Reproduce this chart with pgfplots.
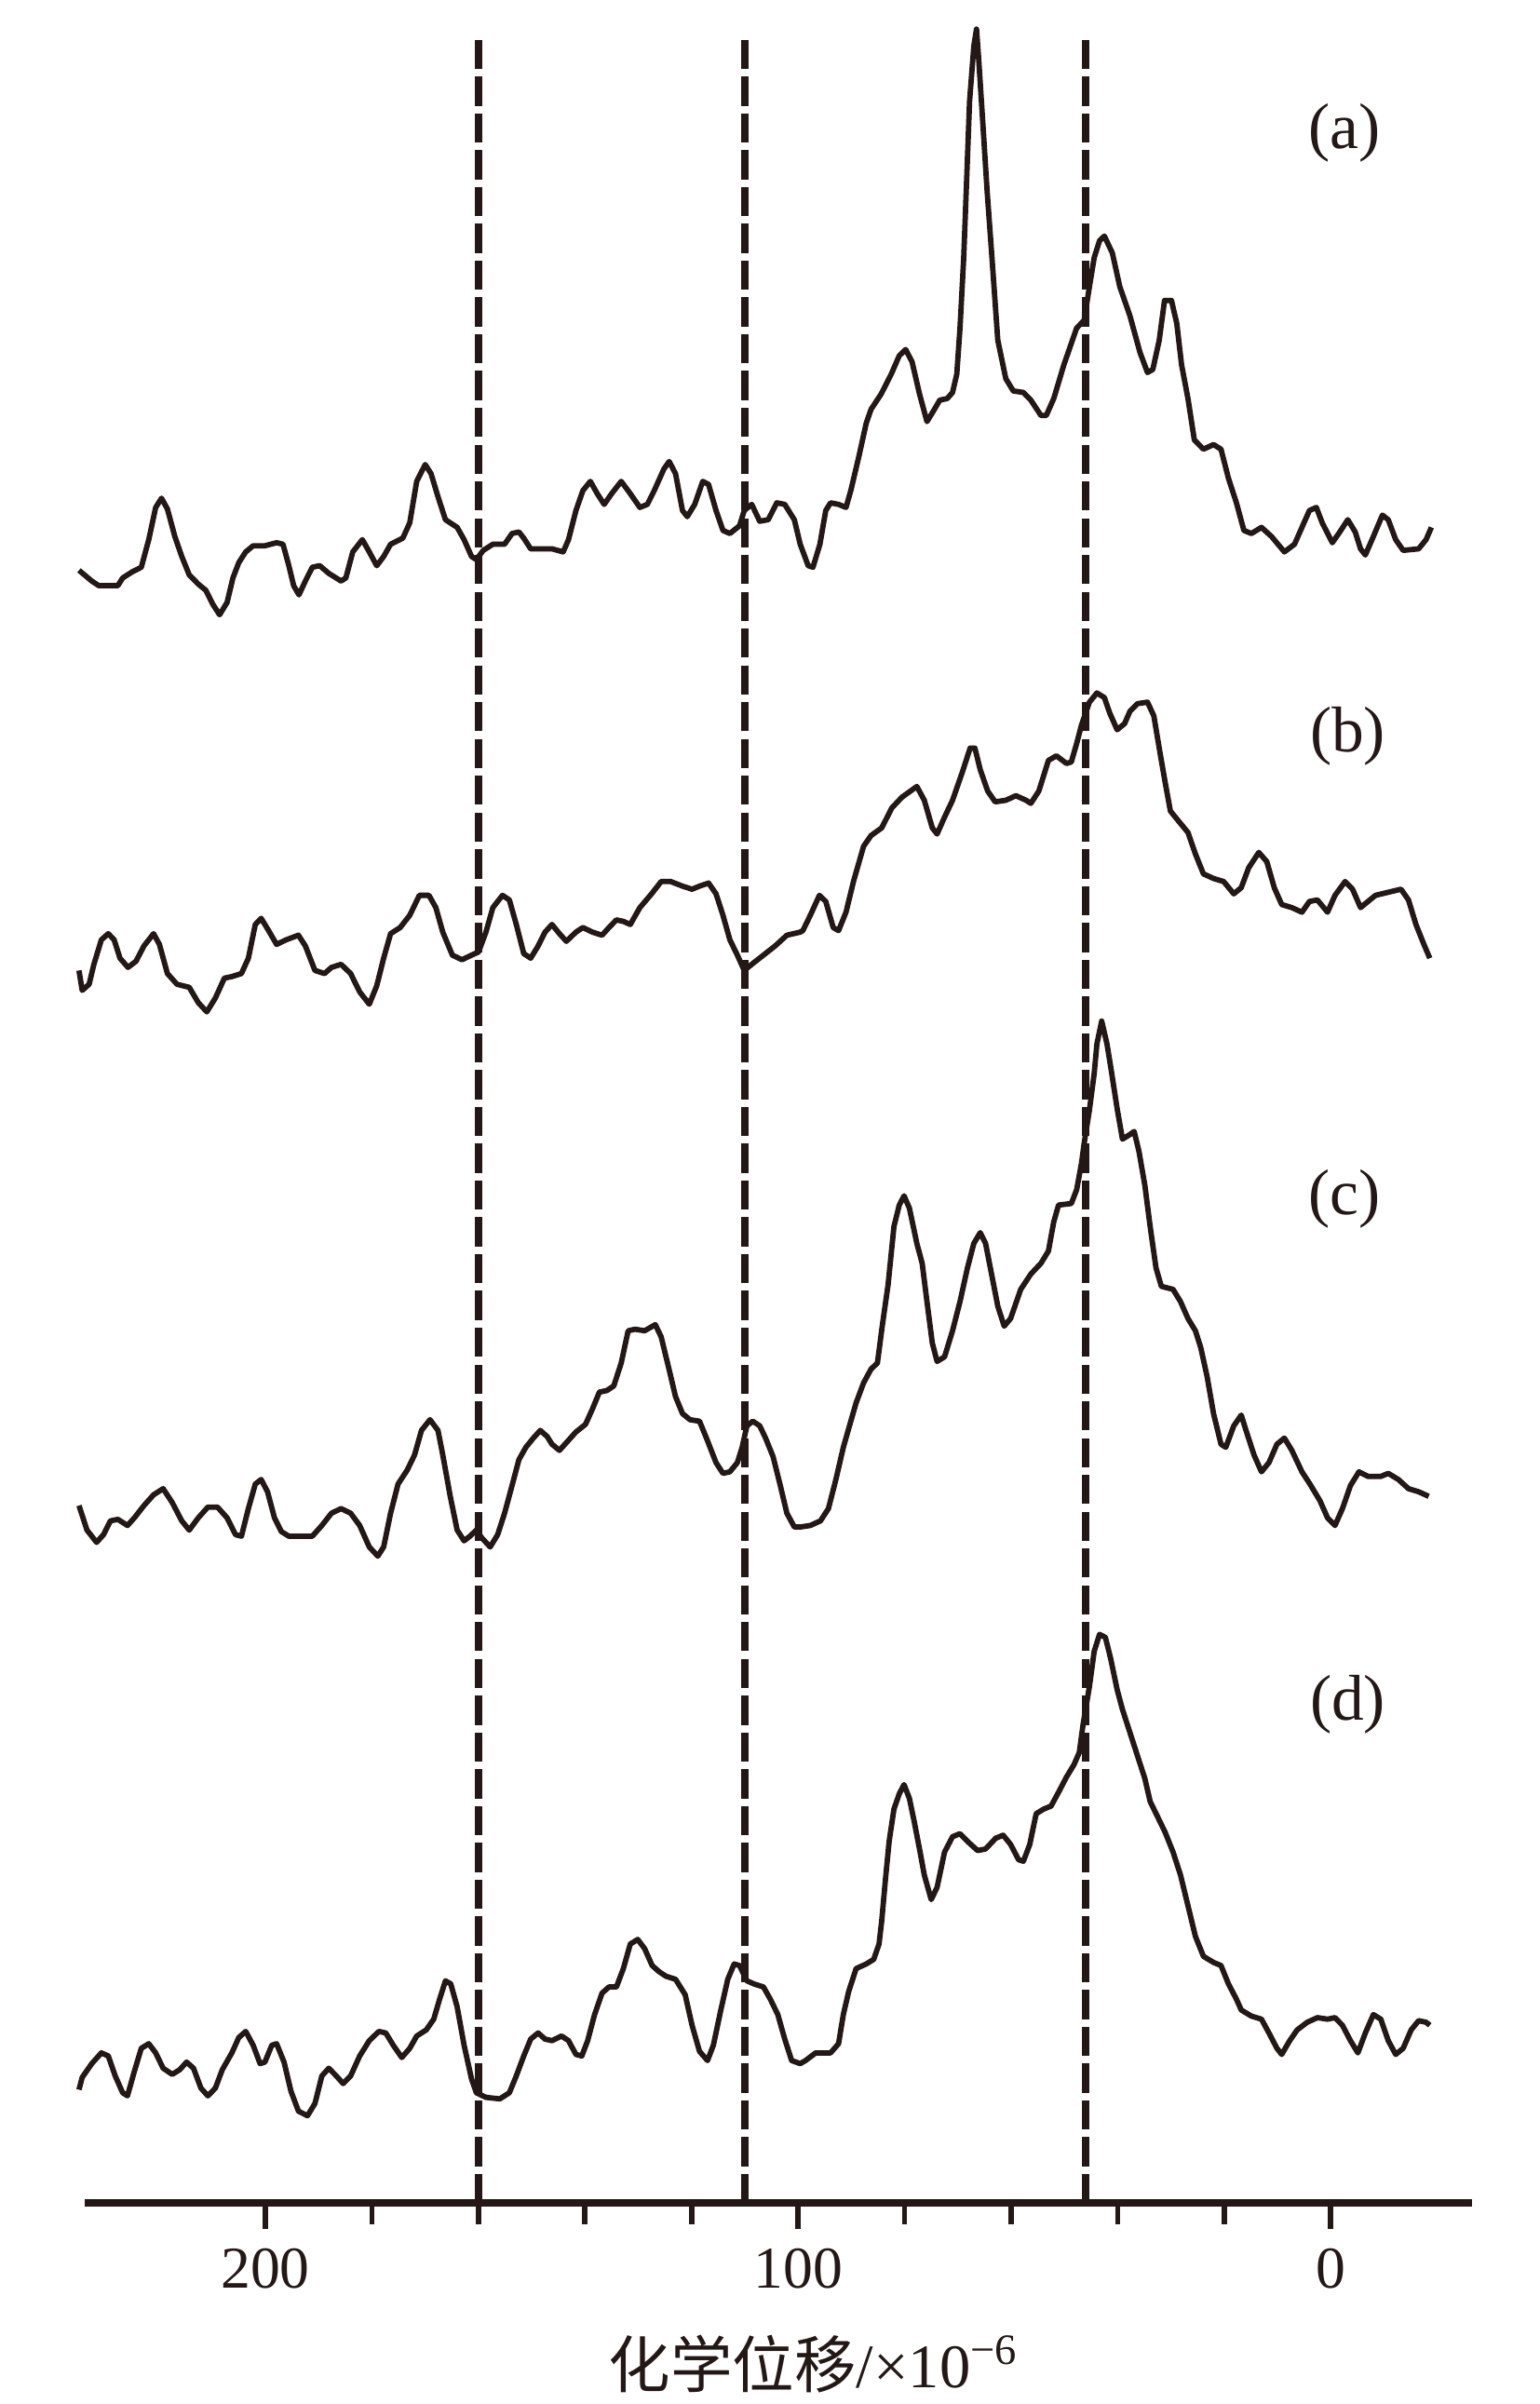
\documentclass[border=0pt]{standalone}
\usepackage{fontspec}
\setmainfont{Liberation Serif}
\newfontfamily\cjk{Noto Sans CJK SC}
\usepackage{pgfplots}
\pgfplotsset{compat=1.18}
\definecolor{ink}{HTML}{231815}
\begin{document}
\begin{tikzpicture}
\useasboundingbox (0,0) rectangle (100.4mm,156.8mm);
\begin{axis}[
  at={(5.5mm,13.1mm)}, anchor=south west,
  scale only axis, width=90.5mm, height=142.2mm,
  x dir=reverse, xmin=-26.5, xmax=234, ymin=0, ymax=1422,
  axis y line=none, axis x line=bottom,
  x axis line style={-, line width=1.4pt, color=ink},
  xtick={0,100,200}, minor xtick={20,40,60,80,120,140,160,180},
  tick align=outside, major tick length=1.7mm, minor tick length=1.35mm,
  every tick/.style={line width=1pt, color=ink},
  xticklabel style={font=\fontsize{11}{13}\selectfont, text=ink},
  /pgf/number format/assume math mode=true,
  clip=false,
  trace/.style={color=ink, line width=1pt, line join=round, no marks, solid},
  vline/.style={color=ink, line width=1.3pt, no marks, dash pattern=on 1.9mm off 0.5mm},
]
% dashed reference lines
\addplot[vline] coordinates {(160,0) (160,1415)};
\addplot[vline] coordinates {(110,0) (110,1415)};
\addplot[vline] coordinates {(46,0) (46,1415)};
% (a)
\addplot[trace] coordinates {(235.0,1065) (232.6,1058) (231.3,1055) (227.7,1055) (226.8,1060) (225.0,1064) (223.3,1067) (221.9,1085) (220.6,1106) (219.5,1112) (218.4,1105) (217.0,1087) (215.7,1074) (214.3,1062) (212.6,1056) (211.2,1052) (209.9,1043) (208.6,1036) (207.2,1044) (206.1,1060) (205.0,1070) (203.7,1077) (202.3,1081) (200.1,1081) (197.9,1083) (196.7,1082) (195.6,1068) (194.7,1055) (193.7,1049) (192.5,1058) (191.2,1067) (189.8,1068) (188.1,1063) (185.8,1058) (184.9,1060) (183.6,1077) (181.8,1085) (180.5,1077) (179.1,1068) (177.8,1074) (176.5,1082) (174.2,1086) (172.9,1096) (171.6,1123) (170.0,1134) (168.9,1128) (167.6,1113) (166.2,1098) (164.0,1093) (162.7,1085) (161.3,1074) (160.4,1072) (159.1,1078) (157.3,1082) (155.1,1082) (153.7,1089) (152.4,1090) (151.5,1086) (150.2,1079) (148.4,1079) (146.2,1079) (144.1,1077) (143.1,1085) (141.7,1104) (140.4,1117) (139.0,1123) (137.7,1115) (136.4,1108) (135.0,1115) (133.2,1123) (131.5,1115) (129.7,1106) (128.3,1108) (127.0,1117) (125.2,1131) (124.2,1136) (123.0,1128) (121.7,1104) (120.8,1100) (119.4,1108) (117.9,1123) (116.8,1121) (115.4,1104) (114.1,1091) (112.8,1089) (111.0,1094) (110.1,1104) (108.7,1108) (107.2,1097) (105.6,1098) (104.0,1109) (102.5,1108) (100.7,1098) (99.6,1082) (98.1,1068) (97.2,1067) (95.9,1082) (94.8,1104) (93.9,1109) (92.4,1108) (91.0,1106) (90.1,1117) (88.6,1139) (87.2,1161) (86.3,1170) (84.4,1180) (82.5,1193) (81.0,1205) (79.8,1209) (78.6,1201) (77.2,1180) (75.8,1162) (74.4,1170) (73.4,1176) (72.0,1177) (71.0,1181) (70.2,1193) (69.6,1223) (68.9,1269) (68.4,1315) (67.8,1371) (67.0,1407) (66.5,1418) (66.1,1399) (65.3,1356) (64.5,1312) (63.6,1269) (62.5,1215) (61.0,1190) (59.6,1182) (57.7,1181) (56.3,1176) (54.4,1166) (53.4,1166) (52.0,1177) (50.1,1199) (47.7,1223) (46.3,1228) (45.3,1250) (44.4,1269) (43.4,1280) (42.5,1283) (41.0,1272) (39.6,1250) (37.7,1231) (35.8,1207) (34.4,1194) (33.4,1196) (32.2,1215) (31.2,1241) (29.9,1241) (28.9,1226) (28.0,1199) (26.8,1177) (25.6,1150) (23.9,1144) (22.0,1147) (20.6,1144) (19.2,1125) (17.7,1109) (16.3,1091) (14.9,1089) (13.0,1093) (11.1,1087) (8.7,1077) (6.8,1082) (5.4,1093) (4.0,1104) (2.7,1106) (1.6,1096) (-0.3,1083) (-1.7,1090) (-3.2,1098) (-4.6,1090) (-5.6,1079) (-6.5,1075) (-8.0,1087) (-9.7,1101) (-10.8,1098) (-12.2,1085) (-13.6,1078) (-16.5,1079) (-17.9,1085) (-18.9,1093)};
% (b)
\addplot[trace] coordinates {(235.0,804) (234.4,791) (233.1,795) (232.2,808) (230.8,824) (229.5,828) (228.4,824) (227.3,812) (225.8,806) (224.3,810) (222.8,820) (221.0,828) (219.9,821) (218.4,802) (216.6,795) (214.3,793) (212.6,783) (211.0,777) (209.4,786) (207.7,799) (206.3,800) (204.5,802) (203.2,812) (201.9,834) (200.8,838) (199.4,830) (197.9,821) (196.1,824) (193.8,827) (192.5,820) (190.7,804) (188.9,802) (187.6,806) (185.8,808) (184.0,802) (182.3,790) (180.5,782) (179.1,794) (177.8,812) (176.5,828) (174.7,832) (172.9,840) (171.1,853) (169.3,853) (168.0,845) (166.7,829) (164.9,814) (163.1,811) (161.3,814) (160.0,816) (158.6,829) (157.3,845) (155.5,853) (154.2,850) (152.9,834) (151.5,815) (150.2,812) (148.8,820) (147.5,829) (146.2,834) (144.8,828) (143.5,823) (141.7,829) (140.4,832) (138.6,829) (136.8,827) (135.5,832) (134.1,837) (132.8,836) (131.5,834) (129.7,845) (127.5,854) (125.7,862) (123.9,862) (121.7,859) (119.9,857) (118.5,859) (116.8,861) (115.4,854) (114.1,840) (112.8,824) (111.4,814) (110.1,804) (108.7,808) (106.5,814) (104.3,820) (102.1,827) (99.6,829) (99.1,830) (97.7,840) (96.0,853) (94.8,849) (93.4,832) (92.4,830) (91.0,842) (89.6,862) (87.7,885) (86.3,892) (84.3,897) (82.4,910) (80.5,917) (77.7,924) (76.3,915) (74.8,897) (73.9,893) (72.5,904) (71.0,915) (69.1,934) (67.7,949) (66.8,949) (65.8,935) (64.4,921) (63.0,914) (61.0,915) (59.1,918) (57.2,915) (56.3,913) (54.8,921) (53.0,941) (51.5,944) (49.6,939) (48.7,940) (47.7,952) (46.8,964) (45.3,979) (43.9,985) (42.5,982) (41.5,972) (40.1,961) (38.7,965) (37.7,973) (36.3,978) (34.4,979) (33.2,970) (32.0,945) (31.1,927) (30.1,908) (28.7,902) (26.8,894) (25.4,880) (23.9,867) (22.0,864) (20.1,862) (18.2,854) (16.8,858) (15.4,871) (13.5,881) (12.0,875) (10.6,858) (9.2,847) (7.3,845) (5.4,842) (4.0,849) (2.5,850) (0.6,842) (-0.8,853) (-2.7,862) (-4.1,857) (-5.6,845) (-7.0,849) (-8.4,853) (-10.8,855) (-13.2,857) (-14.6,850) (-16.0,834) (-17.5,821) (-18.6,812)};
% (c)
\addplot[trace] coordinates {(235.0,455) (233.5,439) (231.7,431) (230.4,436) (229.1,445) (227.7,446) (225.9,442) (224.6,447) (222.8,455) (221.0,462) (219.2,466) (217.5,457) (215.7,445) (214.3,439) (212.6,447) (210.8,454) (209.0,454) (207.2,447) (205.6,436) (204.5,435) (203.2,453) (201.9,469) (200.8,472) (199.6,464) (198.3,447) (197.0,438) (195.6,435) (191.2,435) (189.4,442) (187.6,450) (185.8,453) (184.0,450) (182.3,442) (180.5,428) (178.9,422) (177.8,428) (176.5,450) (175.1,469) (173.4,478) (172.0,488) (170.7,504) (169.1,511) (167.6,504) (166.7,488) (165.3,461) (164.0,439) (162.7,432) (161.6,435) (160.4,439) (159.4,434) (157.8,428) (156.4,436) (155.1,450) (153.7,468) (152.4,485) (151.1,493) (149.7,499) (148.4,504) (147.1,500) (146.2,495) (144.8,491) (143.5,496) (141.7,503) (139.9,508) (138.6,518) (137.3,529) (135.9,530) (134.6,533) (133.2,548) (131.9,569) (130.6,570) (128.8,569) (126.8,573) (125.7,565) (124.3,545) (123.0,526) (121.7,515) (120.3,511) (118.5,510) (117.2,499) (115.4,483) (114.1,476) (112.8,477) (111.4,483) (110.5,493) (109.6,507) (108.5,510) (107.2,507) (106.1,499) (104.7,487) (103.4,469) (102.1,450) (100.7,441) (99.6,441) (97.7,442) (95.8,445) (94.3,453) (92.9,472) (91.5,493) (90.1,510) (89.1,522) (87.7,535) (86.3,544) (85.1,548) (84.2,572) (83.1,599) (82.0,637) (81.0,651) (80.1,657) (79.1,649) (77.7,626) (76.7,613) (75.8,588) (74.8,561) (73.9,549) (72.5,552) (71.0,569) (69.6,588) (68.2,610) (67.0,626) (65.8,633) (64.8,626) (63.9,610) (62.5,585) (61.3,572) (60.1,577) (58.2,596) (56.3,606) (54.4,613) (53.0,621) (52.0,640) (51.1,651) (48.7,652) (47.7,661) (46.8,678) (46.3,691) (45.3,713) (44.4,737) (43.9,756) (43.0,771) (42.0,756) (41.3,741) (40.1,714) (39.1,694) (37.7,697) (36.9,699) (36.0,686) (34.9,664) (33.9,637) (32.8,610) (31.8,598) (29.6,596) (28.2,588) (26.8,577) (25.4,569) (24.4,558) (23.2,539) (22.0,515) (20.6,495) (19.7,493) (18.2,507) (16.8,514) (15.9,504) (14.4,488) (13.0,477) (11.6,483) (10.1,495) (8.7,499) (7.3,491) (5.4,477) (3.9,469) (2.0,458) (0.6,447) (-0.8,442) (-2.2,453) (-3.7,468) (-5.3,477) (-7.0,474) (-9.4,474) (-10.8,476) (-12.7,472) (-14.6,466) (-16.5,464) (-18.4,461)};
% (d)
\addplot[trace] coordinates {(235.0,74) (234.4,82) (232.6,91) (230.8,98) (229.5,96) (228.2,83) (226.8,72) (225.9,70) (224.6,86) (223.3,101) (221.9,104) (220.6,98) (219.2,88) (217.5,84) (216.1,87) (214.8,92) (213.5,88) (212.1,75) (210.8,70) (209.4,75) (208.1,87) (206.3,98) (205.0,108) (203.7,112) (202.3,103) (201.0,91) (200.1,92) (198.8,103) (197.9,104) (196.5,92) (195.2,73) (193.8,60) (192.1,57) (190.7,65) (189.4,83) (188.1,88) (186.7,83) (185.4,78) (184.0,83) (182.3,96) (180.5,106) (178.7,112) (177.4,111) (176.0,103) (174.4,95) (172.9,101) (171.6,109) (169.8,113) (168.4,120) (167.3,133) (166.2,145) (165.2,143) (164.0,128) (162.7,103) (161.3,81) (160.4,72) (158.6,69) (156.0,68) (154.2,72) (152.9,83) (151.5,96) (150.2,107) (148.8,111) (147.5,107) (146.2,106) (144.4,109) (143.1,106) (141.7,97) (140.6,96) (139.5,106) (138.2,123) (136.8,137) (135.5,141) (134.1,141) (132.8,153) (131.5,169) (130.1,172) (128.8,166) (127.4,155) (126.1,151) (124.8,148) (123.0,146) (121.2,136) (119.9,116) (118.5,99) (117.0,93) (115.9,103) (114.5,126) (113.2,146) (112.0,156) (111.0,155) (109.6,145) (108.3,143) (106.5,141) (105.2,133) (103.8,123) (102.5,107) (101.2,93) (99.6,91) (98.6,93) (96.7,98) (93.9,98) (92.4,104) (91.5,123) (90.5,138) (89.1,153) (87.2,156) (85.8,159) (84.8,169) (84.3,184) (83.6,211) (82.9,236) (82.0,257) (81.0,267) (80.1,273) (79.1,264) (78.2,249) (77.2,231) (76.3,214) (75.0,198) (73.9,206) (72.5,229) (71.0,239) (69.6,241) (68.2,236) (66.3,230) (64.8,231) (62.9,238) (61.5,240) (60.1,234) (58.6,224) (57.7,223) (56.5,234) (55.3,254) (53.9,257) (52.5,259) (51.1,268) (49.6,278) (48.2,286) (47.2,294) (46.5,312) (45.3,337) (44.4,360) (43.4,371) (42.3,369) (41.3,355) (40.1,335) (39.1,322) (37.7,307) (36.3,292) (34.9,277) (33.9,262) (32.5,252) (31.1,242) (29.6,229) (28.2,214) (26.8,194) (25.4,174) (23.9,161) (22.0,157) (20.6,155) (19.2,143) (17.7,133) (16.8,126) (14.9,122) (13.0,120) (11.6,111) (10.1,101) (9.2,97) (7.7,106) (6.3,113) (4.4,118) (2.5,121) (0.6,120) (-0.8,121) (-2.2,116) (-3.7,106) (-5.1,98) (-6.5,111) (-8.0,123) (-9.4,120) (-10.8,106) (-12.2,97) (-13.6,101) (-15.1,113) (-16.5,119) (-17.9,118) (-18.6,116)};
% panel labels
\node[font=\fontsize{12}{14}\selectfont, text=ink] at (axis cs:-2.6,1350) {(a)};
\node[font=\fontsize{12}{14}\selectfont, text=ink] at (axis cs:-3.2,957) {(b)};
\node[font=\fontsize{12}{14}\selectfont, text=ink] at (axis cs:-2.6,655) {(c)};
\node[font=\fontsize{12}{14}\selectfont, text=ink] at (axis cs:-3.2,325) {(d)};
% axis title
\node[font=\fontsize{11.5}{14}\selectfont, text=ink] at (axis cs:97,-105) {{\cjk 化学位移}/×10\textsuperscript{−6}};
\end{axis}
\end{tikzpicture}
\end{document}
